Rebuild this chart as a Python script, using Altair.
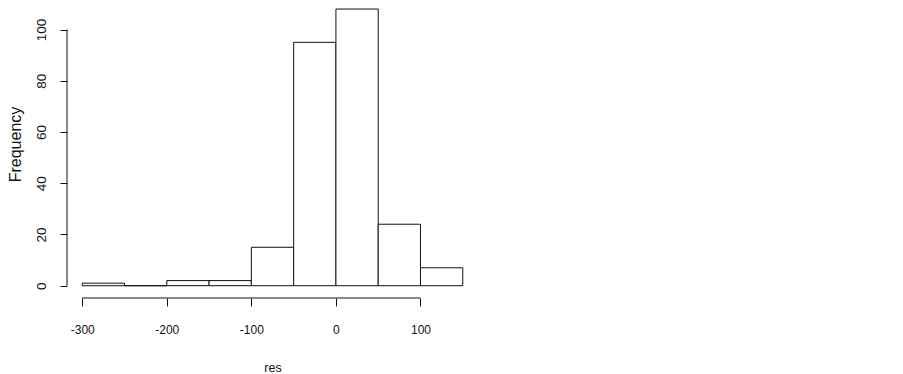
import altair as alt
import pandas as pd

# Histogram of residuals "res"
bin_start = [-300, -250, -200, -150, -100, -50, 0, 50, 100]
bin_end = [-250, -200, -150, -100, -50, 0, 50, 100, 150]
counts = [1, 0, 2, 2, 15, 95, 108, 24, 7]
x_ticks = [-300, -200, -100, 0, 100]
y_ticks = [0, 20, 40, 60, 80, 100]

x_domain = [-318, 168]
y_domain = [-4.8, 108.4]

FONT = "Liberation Sans"
INK = "#111111"

df = pd.DataFrame({"start": bin_start, "end": bin_end, "count": counts,
                   "base": [0] * len(counts)})

xs = alt.Scale(domain=x_domain, nice=False, zero=False)
ys = alt.Scale(domain=y_domain, nice=False, zero=False)

x_axis = alt.Axis(
    values=x_ticks, domain=False, grid=False, tickSize=8, tickColor=INK,
    labelExpr="'' + datum.value",
    labelFont=FONT, labelFontSize=12, labelColor=INK, labelBaseline="alphabetic",
    labelPadding=27, labelFlush=False, labelOverlap=False,
    title="res", titleFont=FONT, titleFontSize=12.5, titleFontWeight="normal",
    titleColor=INK, titleBaseline="alphabetic", titleAlign="center",
    titleX=205.5, titleY=73,
)
y_axis = alt.Axis(
    values=y_ticks, domain=False, grid=False, tickSize=7, tickColor=INK,
    labelExpr="'' + datum.value",
    labelFont=FONT, labelFontSize=13.5, labelColor=INK, labelAngle=270,
    labelAlign="center", labelBaseline="alphabetic", labelPadding=14.5,
    labelFlush=False, labelOverlap=False,
    title="Frequency", titleFont=FONT, titleFontSize=16, titleFontWeight="normal",
    titleColor=INK, titleAngle=270, titleAlign="center", titleBaseline="alphabetic",
    titleX=-47, titleY=136,
)

bars = alt.Chart(df).mark_rect(fill="white", stroke=INK, strokeWidth=1).encode(
    x=alt.X("start:Q", scale=xs, axis=x_axis),
    x2="end:Q",
    y=alt.Y("count:Q", scale=ys, axis=y_axis),
    y2="base:Q",
)

xline_df = pd.DataFrame({"x": [x_ticks[0]], "x2": [x_ticks[-1]], "y": [y_domain[0]]})
xline = alt.Chart(xline_df).mark_rule(color=INK, strokeWidth=1).encode(
    x=alt.X("x:Q", scale=xs), x2="x2:Q", y=alt.Y("y:Q", scale=ys)
)

yline_df = pd.DataFrame({"x": [x_domain[0]], "y": [y_ticks[0]], "y2": [y_ticks[-1]]})
yline = alt.Chart(yline_df).mark_rule(color=INK, strokeWidth=1).encode(
    x=alt.X("x:Q", scale=xs), y=alt.Y("y:Q", scale=ys), y2="y2:Q"
)

chart = alt.layer(bars, xline, yline).properties(
    width=411, height=290,
    autosize=alt.AutoSizeParams(type="none"),
    padding={"left": 59, "top": 0, "right": 0, "bottom": 76},
    background="white",
).configure_view(stroke=None)

chart.save("out.html", embed_options={"renderer": "svg", "actions": False})
